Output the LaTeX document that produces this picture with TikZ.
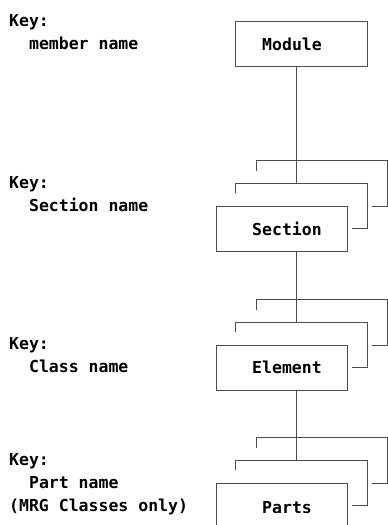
\documentclass[tikz,border=0pt]{standalone}
\usepackage{fontspec}
\setmonofont{DejaVu Sans Mono}
\definecolor{rule}{gray}{0.3}
\tikzset{
  keytext/.style={font=\ttfamily\bfseries\fontsize{16.5}{23}\selectfont,align=left,anchor=base west,inner sep=0pt},
  boxtext/.style={font=\ttfamily\bfseries\fontsize{16.5}{23}\selectfont,anchor=base west,inner sep=0pt},
  member/.style={draw=rule,line width=0.8pt,minimum width=131pt,minimum height=45pt,inner sep=0pt},
  bracket/.style={draw=rule,line width=0.8pt}
}
\begin{document}
\begin{tikzpicture}[x=1pt,y=-1pt]
        \useasboundingbox (0,0) rectangle (388,525);
        % key texts (placed at the baseline of their last line)
        \node[keytext] (module key)  at (9,49)  {Key:\\~~member name};
        \node[keytext] (section key) at (9,211) {Key:\\~~Section name};
        \node[keytext] (element key) at (9,372) {Key:\\~~Class name};
        \node[keytext] (parts key)   at (9,511) {Key:\\~~Part name\\(MRG Classes only)};
        % top box
        \node[member,minimum width=132pt] (module) at (301,43.5) {};
        \node[boxtext] (module name) at (262,50) {Module};
        % pages stacked behind each lower box
        \foreach \y in {206,345,483}{
            \draw[bracket] (256,\y-35) |- (387,\y-46) |- (372,\y);
            \draw[bracket] (235,\y-13) |- (367,\y-23) |- (352,\y+22);
        }
        \coordinate (section stem) at (296,183);
        \coordinate (element stem) at (296,322);
        \coordinate (parts stem)   at (296,460);
        \node[member] (section) at (281.5,228.5) {};
        \node[boxtext] (section name) at (252,235) {Section};
        \node[member] (element) at (281.5,367.5) {};
        \node[boxtext] (element name) at (252,373) {Element};
        \node[member] (parts) at (281.5,505.5) {};
        \node[boxtext] (parts name) at (262,513) {Parts};
        % connectors
        \draw[bracket] (module.south -| section stem)  -- (section stem);
        \draw[bracket] (section.south -| element stem) -- (element stem);
        \draw[bracket] (element.south -| parts stem)   -- (parts stem);
    \end{tikzpicture}
\end{document}
